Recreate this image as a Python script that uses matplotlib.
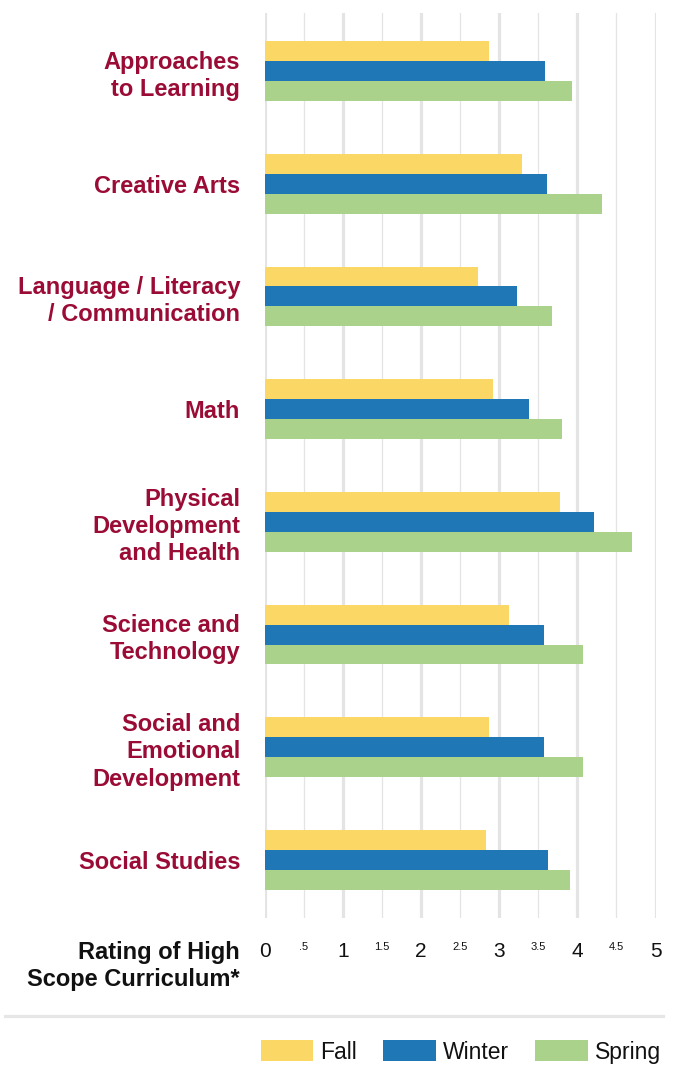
import matplotlib
matplotlib.use("Agg")
import matplotlib.pyplot as plt
from matplotlib.lines import Line2D
import numpy as np

plt.rcParams['font.family'] = ['Liberation Sans', 'DejaVu Sans']

categories = ["Approaches\nto Learning", "Creative Arts", "Language / Literacy\n/ Communication",
              "Math", "Physical\nDevelopment\nand Health", "Science and\nTechnology",
              "Social and\nEmotional\nDevelopment", "Social Studies"]
fall = [2.87, 3.29, 2.73, 2.92, 3.78, 3.13, 2.87, 2.83]
winter = [3.59, 3.61, 3.23, 3.38, 4.21, 3.57, 3.57, 3.63]
spring = [3.93, 4.32, 3.68, 3.81, 4.70, 4.07, 4.07, 3.91]
series_names = ["Fall", "Winter", "Spring"]
colors = ["#FBD766", "#1F77B6", "#AAD28B"]
tick_vals = [0, 0.5, 1, 1.5, 2, 2.5, 3, 3.5, 4, 4.5, 5]
tick_labels = ["0", ".5", "1", "1.5", "2", "2.5", "3", "3.5", "4", "4.5", "5"]

W, H = 675, 1065
fig = plt.figure(figsize=(W / 100, H / 100), dpi=100)
ax = fig.add_axes([264.5 / W, 1 - 918 / H, 391 / W, (918 - 13) / H])

y = np.arange(len(categories))
h = 0.177
handles = []
for k, (vals, c, name) in enumerate(zip([fall, winter, spring], colors, series_names)):
    b = ax.barh(y + (k - 1) * h, vals, height=h, color=c, label=name, zorder=3)
    handles.append(b)

ax.set_xlim(0, 5)
ax.set_ylim(len(categories) - 1 + 0.515, -0.515)

for v in tick_vals:
    ax.axvline(v, color="#e4e4e5", lw=2.3 if float(v).is_integer() else 0.9, zorder=1)

ax.set_xticks(tick_vals)
ax.set_xticklabels(tick_labels)
for lab, v in zip(ax.get_xticklabels(), tick_vals):
    lab.set_fontsize(15 if float(v).is_integer() else 8)
    lab.set_color("#111111")
ax.tick_params(axis='x', length=0, pad=17)

ax.set_yticks(y)
ax.set_yticklabels(categories, fontsize=17, fontweight='bold', color="#9A0B35",
                   linespacing=1.24, ha='right')
ax.tick_params(axis='y', length=0, pad=17.5)

for s in ax.spines.values():
    s.set_visible(False)

fig.text(240 / W, 1 - 941 / H, "Rating of High\nScope Curriculum*", ha='right', va='top',
         fontsize=17, fontweight='bold', color="#111111", linespacing=1.2, multialignment='right')

fig.add_artist(Line2D([5 / W, 663 / W], [1 - 1016 / H] * 2, transform=fig.transFigure,
                      color="#e6e6e6", lw=2.3))

leg = fig.legend(handles=handles, labels=series_names, loc='center right',
                 bbox_to_anchor=(661 / W, 1 - 1052 / H), ncol=3, frameon=False,
                 fontsize=16.5, handlelength=2.3, handleheight=1.0, handletextpad=0.3,
                 columnspacing=1.15, borderpad=0, borderaxespad=0)
for t in leg.get_texts():
    t.set_color("#111111")

fig.savefig("out.png", dpi=100)
